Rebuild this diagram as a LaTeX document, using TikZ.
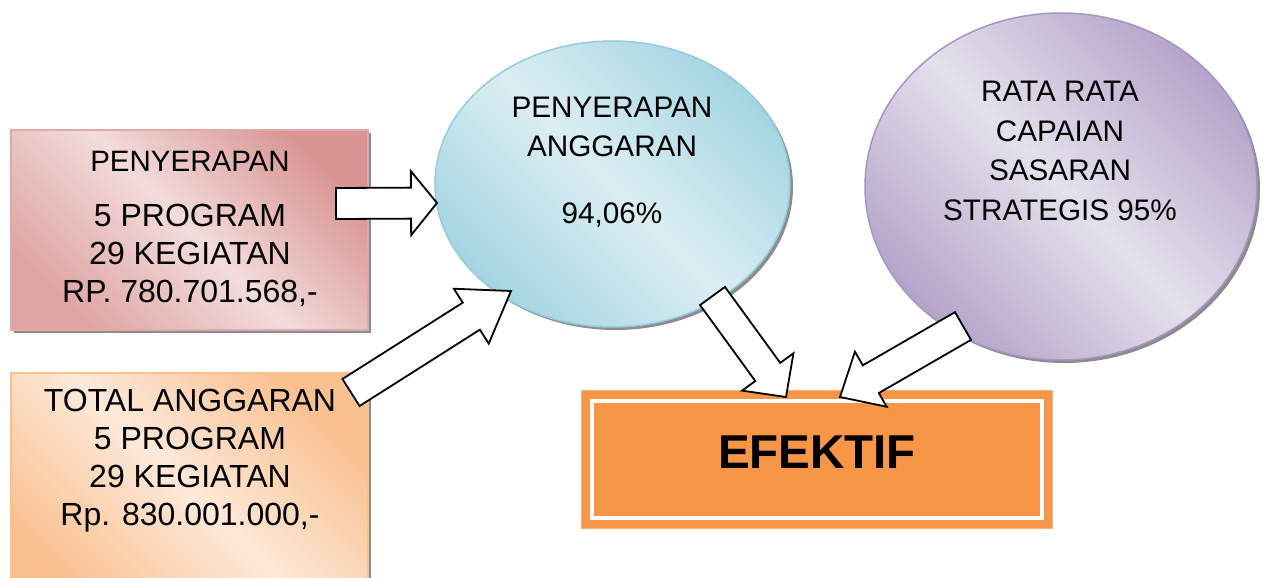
\documentclass[tikz,border=0pt]{standalone}
\usepackage{fontspec}
\setmainfont{Liberation Sans}
\usetikzlibrary{calc,shapes.geometric,shadows}

% fill colours
\definecolor{pinkD}{HTML}{D99594}
\definecolor{pinkD2}{HTML}{DFA5A4}
\definecolor{pinkL}{HTML}{F2DCDB}
\definecolor{pinkB}{HTML}{E3A9A8}
\definecolor{peachD}{HTML}{FAC090}
\definecolor{peachL}{HTML}{FDE9D9}
\definecolor{blueD}{HTML}{A5D5E2}
\definecolor{blueL}{HTML}{DBEEF3}
\definecolor{blueB}{HTML}{93CDDD}
\definecolor{purpD}{HTML}{B5A4CA}
\definecolor{purpL}{HTML}{E5E0EC}
\definecolor{purpB}{HTML}{A895C4}
\definecolor{efOrange}{HTML}{F79646}
\definecolor{efB}{HTML}{FAB27A}
\definecolor{shadowgray}{HTML}{8C8C8C}

% diagonal bands: darker corners, light middle
\pgfdeclarehorizontalshading{pinkband}{100bp}{color(0bp)=(pinkD2); color(25bp)=(pinkD2); color(50bp)=(pinkL); color(75bp)=(pinkD); color(100bp)=(pinkD)}
\pgfdeclarehorizontalshading{peachband}{100bp}{color(0bp)=(peachD); color(25bp)=(peachD); color(50bp)=(peachL); color(75bp)=(peachD); color(100bp)=(peachD)}
\pgfdeclarehorizontalshading{blueband}{100bp}{color(0bp)=(blueD); color(25bp)=(blueD); color(50bp)=(blueL); color(75bp)=(blueD); color(100bp)=(blueD)}
\pgfdeclarehorizontalshading{purpband}{100bp}{color(0bp)=(purpD); color(25bp)=(purpD); color(50bp)=(purpL); color(75bp)=(purpD); color(100bp)=(purpD)}

% block arrow from #1 (tail centre) to #2 (tip):
% #3 half shaft width, #4 half head width, #5 head length
\newcommand\blockarrowpath[5]{%
  \coordinate (ba-base) at ($(#2)!#5!(#1)$);
  \draw[blockarr] ($(#1)!#3!90:(#2)$) -- ($(ba-base)!#3!90:(#2)$)
    -- ($(ba-base)!#4!90:(#2)$) -- (#2) -- ($(ba-base)!#4!-90:(#2)$)
    -- ($(ba-base)!#3!-90:(#2)$) -- ($(#1)!#3!-90:(#2)$) -- cycle;}

\begin{document}
\begin{tikzpicture}[x=1pt,y=-1pt,
  panel/.style={shade, shading angle=45, line width=1.5pt, inner sep=0pt,
    drop shadow={shadow xshift=3pt, shadow yshift=-3pt, fill=shadowgray, opacity=1}},
  boxtext/.style={align=center, inner sep=0pt, font=\fontsize{32}{38}\selectfont},
  bubbletext/.style={align=center, inner sep=0pt, font=\fontsize{29.7}{39.5}\selectfont},
  blockarr/.style={draw=black, fill=white, line width=1.8pt, line join=miter}]
\useasboundingbox (0,0) rectangle (1264,578);

% input boxes
\node[panel, shading=pinkband, draw=pinkB, minimum width=357pt, minimum height=200pt] (pen) at (189.5,230) {};
\node[boxtext] (penText) at (190,229) {{\fontsize{29.5}{38}\selectfont PENYERAPAN}\\[17pt]5 PROGRAM\\29 KEGIATAN\\RP. 780.701.568,-};

\node[panel, shading=peachband, draw=peachD, minimum width=357pt, minimum height=240pt, anchor=north] (tot) at (189.5,372) {};
\node[boxtext] (totText) at (190,461) {TOTAL ANGGARAN\\5 PROGRAM\\29 KEGIATAN\\Rp. 830.001.000,-};

% bubbles
\node[ellipse, panel, shading=blueband, draw=blueB, minimum width=355pt, minimum height=286pt] (absorb) at (612.5,184) {};
\node[bubbletext] (absorbText) at (612,162) {PENYERAPAN\\ANGGARAN\\[27pt]94,06\%};

\node[ellipse, panel, shading=purpband, draw=purpB, minimum width=392pt, minimum height=347pt] (target) at (1061,186.5) {};
\node[bubbletext] (targetText) at (1060,151) {RATA RATA\\CAPAIAN\\SASARAN\\STRATEGIS 95\%};

% result box
\node[draw=efB, fill=efOrange, line width=1pt, minimum width=471pt, minimum height=138pt, inner sep=0pt] (ef) at (816.5,459) {};
\draw[white, line width=4pt] ($(ef.north west)+(11,11)$) rectangle ($(ef.south east)+(-11,-11)$);
\node[inner sep=0pt, font=\fontsize{47.5}{50}\selectfont\bfseries] (efText) at (817,452) {EFEKTIF};

% arrow ends
\coordinate (a1t) at (336,203.5);  \coordinate (a1h) at (437,203);
\coordinate (a2t) at (351,392.5);  \coordinate (a2h) at (511,291);
\coordinate (a3t) at (712.5,296);  \coordinate (a3h) at (786,397);
\coordinate (a4t) at (963,326);    \coordinate (a4h) at (840,397);

\blockarrowpath{a1t}{a1h}{15.5pt}{32pt}{26pt}
\blockarrowpath{a2t}{a2h}{16pt}{32.5pt}{47pt}
\blockarrowpath{a3t}{a3h}{15.4pt}{31.8pt}{31pt}
\blockarrowpath{a4t}{a4h}{16pt}{31.8pt}{35.6pt}
\end{tikzpicture}
\end{document}
